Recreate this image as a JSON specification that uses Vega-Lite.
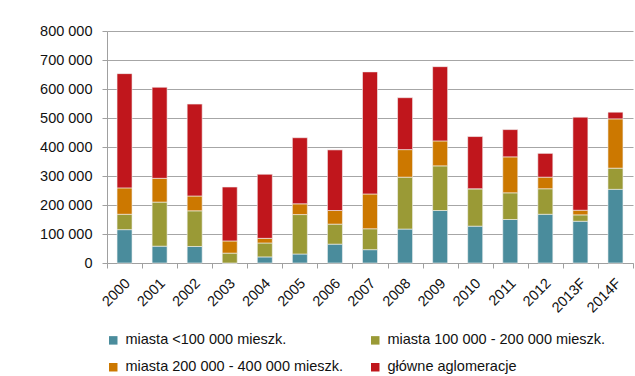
{
  "$schema": "https://vega.github.io/schema/vega-lite/v6.json",
  "autosize": {"type": "none"},
  "width": 526,
  "height": 232,
  "padding": {"left": 107, "top": 31, "right": 2, "bottom": 113},
  "background": "white",
  "data": {
    "values": [
      {"rok": "2000", "typ": "miasta <100 000 mieszk.", "o": 1, "v": 115000},
      {"rok": "2000", "typ": "miasta 100 000 - 200 000 mieszk.", "o": 2, "v": 53000},
      {"rok": "2000", "typ": "miasta 200 000 - 400 000 mieszk.", "o": 3, "v": 91000},
      {"rok": "2000", "typ": "główne aglomeracje", "o": 4, "v": 394000},
      {"rok": "2001", "typ": "miasta <100 000 mieszk.", "o": 1, "v": 58000},
      {"rok": "2001", "typ": "miasta 100 000 - 200 000 mieszk.", "o": 2, "v": 152000},
      {"rok": "2001", "typ": "miasta 200 000 - 400 000 mieszk.", "o": 3, "v": 82000},
      {"rok": "2001", "typ": "główne aglomeracje", "o": 4, "v": 314000},
      {"rok": "2002", "typ": "miasta <100 000 mieszk.", "o": 1, "v": 57000},
      {"rok": "2002", "typ": "miasta 100 000 - 200 000 mieszk.", "o": 2, "v": 123000},
      {"rok": "2002", "typ": "miasta 200 000 - 400 000 mieszk.", "o": 3, "v": 51000},
      {"rok": "2002", "typ": "główne aglomeracje", "o": 4, "v": 317000},
      {"rok": "2003", "typ": "miasta <100 000 mieszk.", "o": 1, "v": 0},
      {"rok": "2003", "typ": "miasta 100 000 - 200 000 mieszk.", "o": 2, "v": 34000},
      {"rok": "2003", "typ": "miasta 200 000 - 400 000 mieszk.", "o": 3, "v": 42000},
      {"rok": "2003", "typ": "główne aglomeracje", "o": 4, "v": 186000},
      {"rok": "2004", "typ": "miasta <100 000 mieszk.", "o": 1, "v": 21000},
      {"rok": "2004", "typ": "miasta 100 000 - 200 000 mieszk.", "o": 2, "v": 48000},
      {"rok": "2004", "typ": "miasta 200 000 - 400 000 mieszk.", "o": 3, "v": 16000},
      {"rok": "2004", "typ": "główne aglomeracje", "o": 4, "v": 221000},
      {"rok": "2005", "typ": "miasta <100 000 mieszk.", "o": 1, "v": 31000},
      {"rok": "2005", "typ": "miasta 100 000 - 200 000 mieszk.", "o": 2, "v": 136000},
      {"rok": "2005", "typ": "miasta 200 000 - 400 000 mieszk.", "o": 3, "v": 37000},
      {"rok": "2005", "typ": "główne aglomeracje", "o": 4, "v": 228000},
      {"rok": "2006", "typ": "miasta <100 000 mieszk.", "o": 1, "v": 65000},
      {"rok": "2006", "typ": "miasta 100 000 - 200 000 mieszk.", "o": 2, "v": 69000},
      {"rok": "2006", "typ": "miasta 200 000 - 400 000 mieszk.", "o": 3, "v": 47000},
      {"rok": "2006", "typ": "główne aglomeracje", "o": 4, "v": 209000},
      {"rok": "2007", "typ": "miasta <100 000 mieszk.", "o": 1, "v": 46000},
      {"rok": "2007", "typ": "miasta 100 000 - 200 000 mieszk.", "o": 2, "v": 72000},
      {"rok": "2007", "typ": "miasta 200 000 - 400 000 mieszk.", "o": 3, "v": 120000},
      {"rok": "2007", "typ": "główne aglomeracje", "o": 4, "v": 421000},
      {"rok": "2008", "typ": "miasta <100 000 mieszk.", "o": 1, "v": 117000},
      {"rok": "2008", "typ": "miasta 100 000 - 200 000 mieszk.", "o": 2, "v": 179000},
      {"rok": "2008", "typ": "miasta 200 000 - 400 000 mieszk.", "o": 3, "v": 95000},
      {"rok": "2008", "typ": "główne aglomeracje", "o": 4, "v": 179000},
      {"rok": "2009", "typ": "miasta <100 000 mieszk.", "o": 1, "v": 181000},
      {"rok": "2009", "typ": "miasta 100 000 - 200 000 mieszk.", "o": 2, "v": 154000},
      {"rok": "2009", "typ": "miasta 200 000 - 400 000 mieszk.", "o": 3, "v": 86000},
      {"rok": "2009", "typ": "główne aglomeracje", "o": 4, "v": 256000},
      {"rok": "2010", "typ": "miasta <100 000 mieszk.", "o": 1, "v": 127000},
      {"rok": "2010", "typ": "miasta 100 000 - 200 000 mieszk.", "o": 2, "v": 129000},
      {"rok": "2010", "typ": "miasta 200 000 - 400 000 mieszk.", "o": 3, "v": 0},
      {"rok": "2010", "typ": "główne aglomeracje", "o": 4, "v": 180000},
      {"rok": "2011", "typ": "miasta <100 000 mieszk.", "o": 1, "v": 150000},
      {"rok": "2011", "typ": "miasta 100 000 - 200 000 mieszk.", "o": 2, "v": 92000},
      {"rok": "2011", "typ": "miasta 200 000 - 400 000 mieszk.", "o": 3, "v": 124000},
      {"rok": "2011", "typ": "główne aglomeracje", "o": 4, "v": 94000},
      {"rok": "2012", "typ": "miasta <100 000 mieszk.", "o": 1, "v": 168000},
      {"rok": "2012", "typ": "miasta 100 000 - 200 000 mieszk.", "o": 2, "v": 88000},
      {"rok": "2012", "typ": "miasta 200 000 - 400 000 mieszk.", "o": 3, "v": 40000},
      {"rok": "2012", "typ": "główne aglomeracje", "o": 4, "v": 82000},
      {"rok": "2013F", "typ": "miasta <100 000 mieszk.", "o": 1, "v": 144000},
      {"rok": "2013F", "typ": "miasta 100 000 - 200 000 mieszk.", "o": 2, "v": 22000},
      {"rok": "2013F", "typ": "miasta 200 000 - 400 000 mieszk.", "o": 3, "v": 16000},
      {"rok": "2013F", "typ": "główne aglomeracje", "o": 4, "v": 321000},
      {"rok": "2014F", "typ": "miasta <100 000 mieszk.", "o": 1, "v": 254000},
      {"rok": "2014F", "typ": "miasta 100 000 - 200 000 mieszk.", "o": 2, "v": 73000},
      {"rok": "2014F", "typ": "miasta 200 000 - 400 000 mieszk.", "o": 3, "v": 170000},
      {"rok": "2014F", "typ": "główne aglomeracje", "o": 4, "v": 23000}
    ]
  },
  "mark": {"type": "bar", "size": 15, "stroke": "#f2f2f2", "strokeWidth": 0.6},
  "encoding": {
    "x": {
      "field": "rok",
      "type": "nominal",
      "sort": null,
      "scale": {"paddingInner": 0, "paddingOuter": 0},
      "axis": {
        "title": null,
        "labelAngle": -45,
        "labelAlign": "right",
        "labelBaseline": "middle",
        "labelFont": "Liberation Sans",
        "labelFontSize": 14.5,
        "labelColor": "#111111",
        "labelPadding": 13,
        "labelOffset": 3,
        "tickBand": "extent",
        "tickColor": "#a0a0a0",
        "tickSize": 5,
        "domainColor": "#a0a0a0",
        "grid": false
      }
    },
    "y": {
      "field": "v",
      "type": "quantitative",
      "stack": "zero",
      "scale": {"domain": [0, 800000], "nice": false},
      "axis": {
        "title": null,
        "values": [0, 100000, 200000, 300000, 400000, 500000, 600000, 700000, 800000],
        "labelExpr": "replace(format(datum.value, ','), ',', ' ')",
        "labelFont": "Liberation Sans",
        "labelFontSize": 14.5,
        "labelColor": "#111111",
        "labelPadding": 10,
        "tickSize": 5,
        "tickColor": "#a0a0a0",
        "domainColor": "#a0a0a0",
        "gridColor": "#a6a6a6",
        "gridWidth": 1
      }
    },
    "color": {
      "field": "typ",
      "type": "nominal",
      "sort": ["miasta <100 000 mieszk.", "miasta 100 000 - 200 000 mieszk.", "miasta 200 000 - 400 000 mieszk.", "główne aglomeracje"],
      "scale": {
        "domain": ["miasta <100 000 mieszk.", "miasta 100 000 - 200 000 mieszk.", "miasta 200 000 - 400 000 mieszk.", "główne aglomeracje"],
        "range": ["#4a8c9c", "#9a9a36", "#cc7800", "#c0161c"]
      },
      "legend": {
        "title": null,
        "orient": "none",
        "legendX": -1,
        "legendY": 302,
        "direction": "horizontal",
        "columns": 2,
        "columnPadding": 24,
        "rowPadding": 12,
        "symbolType": "square",
        "symbolSize": 72,
        "symbolStrokeWidth": 0,
        "labelFont": "Liberation Sans",
        "labelFontSize": 14.5,
        "labelColor": "#111111",
        "labelOffset": 5,
        "labelLimit": 400
      }
    },
    "order": {"field": "o", "type": "quantitative"}
  },
  "config": {"view": {"stroke": null}}
}
